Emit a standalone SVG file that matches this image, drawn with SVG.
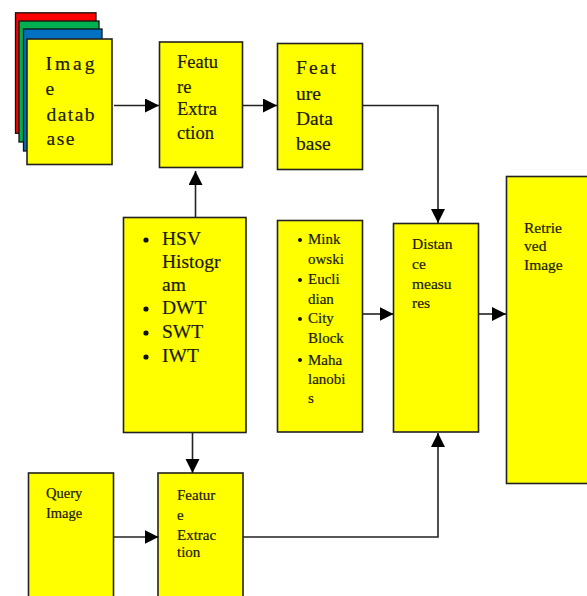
<svg xmlns="http://www.w3.org/2000/svg" width="587" height="596" viewBox="0 0 587 596">
<style>
.b{fill:#ff0;stroke:#222;stroke-width:1.6}
.s{stroke:#111;stroke-width:1.3}
text{font-family:"Liberation Serif",serif;fill:#1a1a00;stroke:#1a1a00;stroke-width:.2}
.t18{font-size:18.500px}.t19{font-size:19.500px}.t195{font-size:19.500px}.t15{font-size:15px}.t155{font-size:15.500px}.t145{font-size:14.500px}
.c{fill:none;stroke:#222;stroke-width:1.6}
</style>
<defs><marker id="a" markerUnits="userSpaceOnUse" markerWidth="15" markerHeight="15" refX="14" refY="7" orient="auto"><path d="M0 0L14 7L0 14Z" fill="#000"/></marker></defs>
<g id="stack">
<rect x="15.500" y="12.800" width="80.500" height="120.500" fill="#f00" class="s"/>
<rect x="19" y="21" width="80" height="121" fill="#00b050" class="s"/>
<rect x="23.500" y="29" width="78.500" height="122" fill="#0070c0" class="s"/>
</g>
<g id="image-database"><rect class="b" x="27" y="39" width="85" height="125.500"/>
<text class="t19" x="45.500" y="70" textLength="49" lengthAdjust="spacing">Imag</text><text class="t19" x="45.500" y="95">e</text><text class="t19" x="46.500" y="121" textLength="48" lengthAdjust="spacing">datab</text><text class="t19" x="46.500" y="145" textLength="28" lengthAdjust="spacing">ase</text></g>
<g id="feature-extraction-top"><rect class="b" x="159.500" y="42" width="83" height="125.500"/>
<text class="t18" x="177" y="68">Featu</text><text class="t18" x="177" y="93">re</text><text class="t18" x="177" y="115">Extra</text><text class="t18" x="177" y="139">ction</text></g>
<g id="feature-database"><rect class="b" x="277.500" y="43.500" width="85" height="126"/>
<text class="t19" x="296" y="74" textLength="40" lengthAdjust="spacing">Feat</text><text class="t19" x="296" y="100">ure</text><text class="t19" x="296" y="125">Data</text><text class="t19" x="296" y="150">base</text></g>
<g id="methods"><rect class="b" x="123.500" y="217.500" width="122.500" height="215"/>
<circle cx="146" cy="240" r="2.600" fill="#111"/><circle cx="146" cy="309" r="2.600" fill="#111"/><circle cx="146" cy="333" r="2.600" fill="#111"/><circle cx="146" cy="357" r="2.600" fill="#111"/>
<text class="t195" x="162" y="245">HSV</text><text class="t195" x="162" y="268">Histogr</text><text class="t195" x="162" y="291">am</text><text class="t195" x="162" y="314">DWT</text><text class="t195" x="162" y="338">SWT</text><text class="t195" x="162" y="362">IWT</text></g>
<g id="metrics"><rect class="b" x="277.500" y="220.500" width="85" height="211.500"/>
<circle cx="300" cy="240" r="2" fill="#111"/><circle cx="300" cy="280" r="2" fill="#111"/><circle cx="300" cy="319" r="2" fill="#111"/><circle cx="300" cy="360" r="2" fill="#111"/>
<text class="t15" x="308" y="244">Mink</text><text class="t15" x="308" y="264">owski</text><text class="t15" x="308" y="284">Eucli</text><text class="t15" x="308" y="304">dian</text><text class="t15" x="308" y="323">City</text><text class="t15" x="308" y="343">Block</text><text class="t15" x="308" y="365">Maha</text><text class="t15" x="308" y="384">lanobi</text><text class="t15" x="308" y="403">s</text></g>
<g id="distance-measures"><rect class="b" x="393.500" y="223.500" width="85" height="208.500"/>
<text class="t155" x="412" y="249">Distan</text><text class="t155" x="412" y="269">ce</text><text class="t155" x="412" y="289">measu</text><text class="t155" x="412" y="308">res</text></g>
<g id="retrieved-image"><rect class="b" x="506.500" y="176.500" width="85" height="307"/>
<text class="t155" x="524" y="233">Retrie</text><text class="t155" x="524" y="251">ved</text><text class="t155" x="524" y="270">Image</text></g>
<g id="query-image"><rect class="b" x="28.500" y="473" width="85" height="130"/>
<text class="t145" x="46" y="498">Query</text><text class="t145" x="46" y="518">Image</text></g>
<g id="feature-extraction-bottom"><rect class="b" x="158" y="473" width="85" height="130"/>
<text class="t15" x="177" y="500">Featur</text><text class="t15" x="177" y="520">e</text><text class="t15" x="177" y="540">Extrac</text><text class="t15" x="177" y="557">tion</text></g>
<g id="connectors">
<path class="c" d="M114 105.500H159" marker-end="url(#a)"/>
<path class="c" d="M243 105.500H277" marker-end="url(#a)"/>
<path class="c" d="M363 105.500H438V223" marker-end="url(#a)"/>
<path class="c" d="M195.500 217V171" marker-end="url(#a)"/>
<path class="c" d="M192.500 433V473" marker-end="url(#a)"/>
<path class="c" d="M363 314H393.500" marker-end="url(#a)"/>
<path class="c" d="M479 314H506" marker-end="url(#a)"/>
<path class="c" d="M114 537H158.500" marker-end="url(#a)"/>
<path class="c" d="M243 537H438V433" marker-end="url(#a)"/>
</g>
</svg>
